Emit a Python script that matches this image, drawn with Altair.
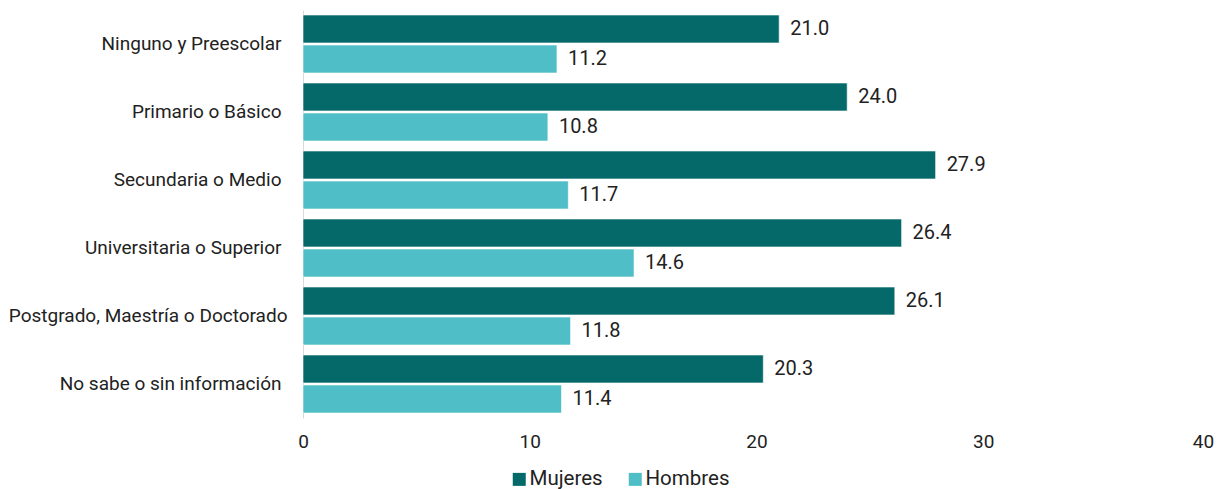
import altair as alt
import pandas as pd

categories = [
    "Ninguno y Preescolar",
    "Primario o Básico",
    "Secundaria o Medio",
    "Universitaria o Superior",
    "Postgrado, Maestría o Doctorado",
    "No sabe o sin información",
]
series = ["Mujeres", "Hombres"]
mujeres = [21.0, 24.0, 27.9, 26.4, 26.1, 20.3]
hombres = [11.2, 10.8, 11.7, 14.6, 11.8, 11.4]
ticks = [0, 10, 20, 30, 40]
colors = ["#05696A", "#4FBEC6"]

rows = []
for c, m, h in zip(categories, mujeres, hombres):
    rows.append({"cat": c, "serie": "Mujeres", "val": m})
    rows.append({"cat": c, "serie": "Hombres", "val": h})
df = pd.DataFrame(rows)

FONT = "Roboto"
FS = 19

y = alt.Y("cat:N", sort=categories, title=None,
          scale=alt.Scale(paddingInner=0.147, paddingOuter=0.0735),
          axis=alt.Axis(labelFont=FONT, labelFontSize=FS, labelColor="#222222",
                        ticks=False, domainColor="#d9d9d9", labelLimit=400,
                        labelPadding={"condition": {"test": "indexof(datum.label, 'Postgrado') == 0",
                                                    "value": 16},
                                      "value": 22}))
yoff = alt.YOffset("serie:N", sort=series, scale=alt.Scale(paddingInner=0.0667))
x = alt.X("val:Q", title=None,
          scale=alt.Scale(domain=[0, 40], nice=False),
          axis=alt.Axis(values=ticks, grid=False, domain=False, ticks=False,
                        labelFont=FONT, labelFontSize=FS, labelColor="#222222",
                        labelPadding=14, labelFlush=False,
                        labelOffset={"condition": {"test": "datum.value == 40", "value": -7},
                                     "value": 0}))

bars = alt.Chart(df).mark_bar(stroke="white", strokeWidth=0.6).encode(
    x=x, y=y, yOffset=yoff,
    color=alt.Color("serie:N", sort=series,
                    scale=alt.Scale(domain=series, range=colors),
                    legend=alt.Legend(title=None, orient="none", direction="horizontal",
                                      legendX=206, legendY=459,
                                      symbolType="square", symbolSize=169,
                                      symbolStrokeWidth=0,
                                      labelFont=FONT, labelFontSize=20.5,
                                      labelColor="#222222", labelOffset=0,
                                      columnPadding=22)),
)

labels = alt.Chart(df).mark_text(align="left", baseline="middle", dx=11,
                                 font=FONT, fontSize=20, color="#222222").encode(
    x="val:Q", y=alt.Y("cat:N", sort=categories), yOffset=alt.YOffset("serie:N", sort=series),
    text=alt.Text("val:Q", format=".1f"),
)

chart = alt.layer(bars, labels).properties(
    width=907, height=408,
    autosize=alt.AutoSizeParams(type="none"),
    padding={"left": 295, "top": 2, "right": 4, "bottom": 72},
).configure_view(stroke=None)

chart.save("out.html", embed_options={"renderer": "svg", "actions": False})
